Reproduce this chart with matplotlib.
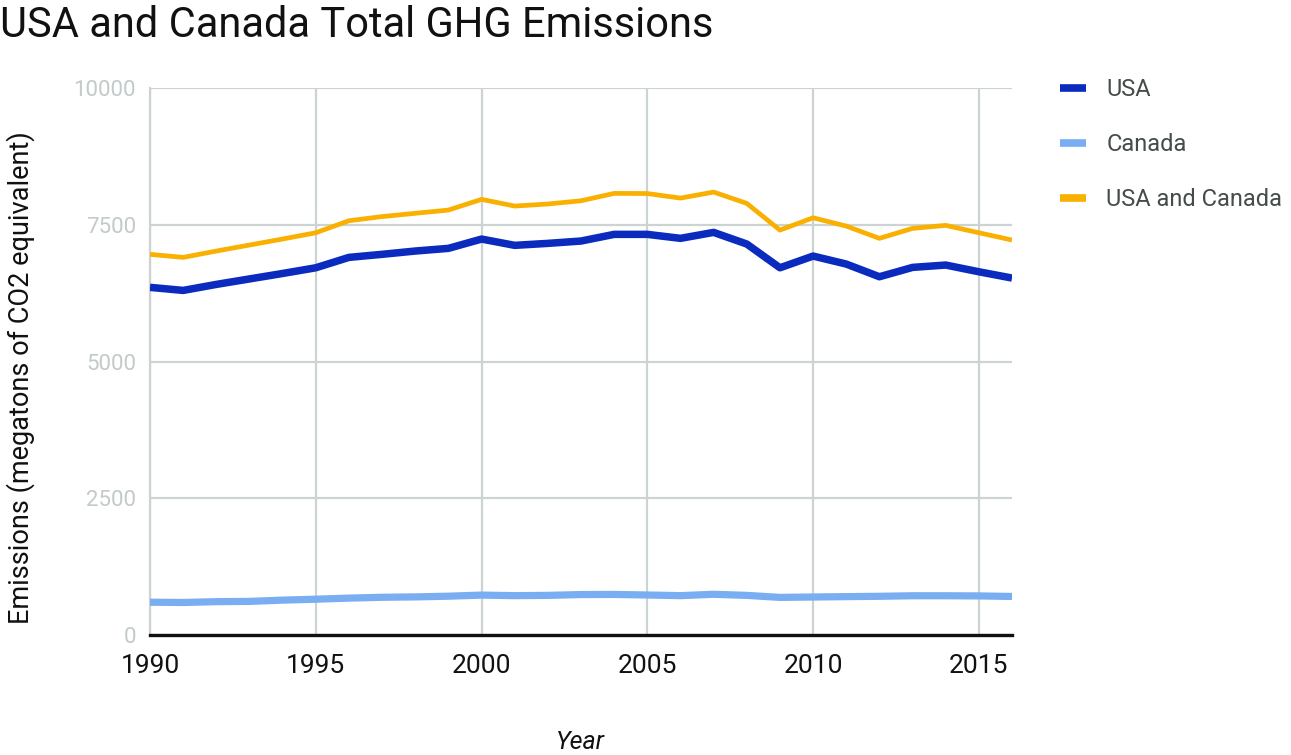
import matplotlib
matplotlib.use('Agg')
import matplotlib.pyplot as plt

plt.rcParams['font.family'] = ['Roboto', 'DejaVu Sans']

years = list(range(1990, 2017))
usa = [6356, 6300, 6410, 6510, 6610, 6714, 6904, 6960, 7020, 7069,
       7239, 7124, 7160, 7203, 7325, 7325, 7252, 7361, 7148, 6714,
       6928, 6782, 6550, 6721, 6764, 6641, 6526]
canada = [600, 595, 610, 615, 638, 655, 675, 690, 697, 710,
          730, 720, 725, 740, 742, 732, 720, 745, 725, 688,
          695, 702, 708, 718, 718, 715, 705]
usa_canada = [6959, 6904, 7020, 7130, 7240, 7354, 7574, 7650, 7710, 7769,
              7965, 7842, 7880, 7939, 8074, 8071, 7988, 8098, 7891, 7403,
              7628, 7476, 7252, 7434, 7489, 7354, 7221]

x_ticks = [1990, 1995, 2000, 2005, 2010, 2015]
y_ticks = [0, 2500, 5000, 7500, 10000]

fig = plt.figure(figsize=(12.91, 7.55), dpi=100)
ax = fig.add_axes([0.1162, 0.1589, 0.6677, 0.7245])

grid_col = '#cdd3d3'
ax.plot(years, usa, color='#0a2bbd', lw=5.4, label='USA', solid_capstyle='butt', zorder=3)
ax.plot(years, canada, color='#7aaef2', lw=5.2, label='Canada', solid_capstyle='butt', zorder=3)
ax.plot(years, usa_canada, color='#f9b000', lw=3.4, label='USA and Canada', solid_capstyle='butt', zorder=3)

ax.set_xlim(1990, 2016)
ax.set_ylim(0, 10000)
ax.set_xticks(x_ticks)
ax.set_yticks(y_ticks)
ax.grid(True, color=grid_col, lw=1.6)
ax.set_axisbelow(True)

for s in ['top', 'right']:
    ax.spines[s].set_visible(False)
ax.spines['left'].set_color(grid_col)
ax.spines['left'].set_linewidth(1.6)
ax.spines['bottom'].set_color('#111111')
ax.spines['bottom'].set_linewidth(2.4)
ax.spines['bottom'].set_zorder(4)

ax.tick_params(axis='y', length=0, pad=10, labelsize=16, labelcolor='#c2caca')
ax.tick_params(axis='x', length=0, pad=14, labelsize=19, labelcolor='#111111')

fig.text(0.0, 0.993, 'USA and Canada Total GHG Emissions', fontsize=30,
         ha='left', va='top', color='#111111')
fig.text(0.016, 0.5, 'Emissions (megatons of CO2 equivalent)', fontsize=19.5,
         rotation=90, ha='center', va='center', color='#111111')
fig.text(0.45, 0.017, 'Year', fontsize=18, style='italic',
         ha='center', va='center', color='#111111')

leg = ax.legend(loc='upper left', bbox_to_anchor=(1.045, 1.035), frameon=False,
                fontsize=17, handlelength=1.1, handletextpad=0.85, labelspacing=1.35,
                borderaxespad=0)
for t in leg.get_texts():
    t.set_color('#444c4c')
for h in leg.get_lines():
    h.set_linewidth(5.5)

fig.savefig('out.png', dpi=100)
